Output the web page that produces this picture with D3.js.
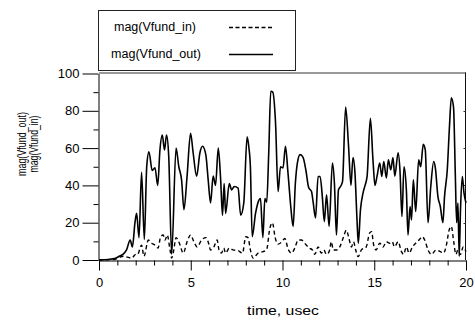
<!DOCTYPE html>
<html>
<head>
<meta charset="utf-8">
<script src="https://cdn.jsdelivr.net/npm/d3@7"></script>
<style>
  body { margin: 0; background: #fff; }
  svg { font-family: "Liberation Sans", Arial, sans-serif; }
  .axis path, .axis line { stroke: #000; }
  .axis text { font-size: 13px; fill: #000; font-family: "Liberation Sans", Arial, sans-serif; }
</style>
</head>
<body>
<div id="chart"></div>
<script>
// time samples (usec) and magnitudes
var outTime = [0, 0.5, 0.9, 1.1, 1.3, 1.5, 1.7, 1.82, 1.96, 2.05, 2.18, 2.32, 2.47, 2.6, 2.72, 2.9, 3.05, 3.2, 3.32, 3.45, 3.57, 3.68, 3.8, 3.96,
  4.2, 4.35, 4.5, 4.63, 4.8, 4.99, 5.13, 5.32, 5.5, 5.64, 5.82, 5.95, 6.08, 6.22, 6.35, 6.5, 6.63, 6.73, 6.82, 6.9, 7.1, 7.23, 7.37, 7.58, 7.72, 7.89,
  8.07, 8.16, 8.25, 8.35, 8.53, 8.71, 8.8, 8.93, 9.04, 9.14, 9.25, 9.36, 9.47, 9.62, 9.76, 9.89, 10.03, 10.16, 10.3, 10.45, 10.58, 10.7, 10.81, 10.96,
  11.12, 11.27, 11.43, 11.58, 11.67, 11.8, 11.94, 12.05, 12.17, 12.28, 12.4, 12.54, 12.72, 12.83, 12.94, 13.05, 13.16, 13.27, 13.44, 13.6, 13.73, 13.84, 13.95,
  14.06, 14.13, 14.25, 14.39, 14.5, 14.61, 14.79, 14.93, 15.04, 15.15, 15.3, 15.41, 15.52, 15.66, 15.77, 15.9, 16.02, 16.12, 16.3, 16.4, 16.51, 16.62, 16.75,
  16.84, 16.95, 17.03, 17.13, 17.26, 17.42, 17.53, 17.67, 17.78, 17.93, 18.08, 18.24, 18.33, 18.47, 18.6, 18.74, 18.83, 18.98, 19.1, 19.2, 19.32, 19.42,
  19.49, 19.56, 19.63, 19.7, 19.8, 19.89, 20];
var outMag = [0, 0.3, 1, 2, 3, 5.4, 10.7, 7, 20, 25, 12, 47, 11, 50, 58, 48, 49.5, 40, 59, 67, 59, 67, 55.5, 3,
  60, 50, 43, 27, 45, 68, 57.5, 45, 57.5, 61, 56.5, 43, 30.6, 45, 40, 60, 43, 24, 41, 25, 41, 37.6, 39.4, 38.5, 24, 30.6,
  66, 61, 50, 12.5, 25, 32, 33, 12, 33, 31, 57.5, 90.5, 90, 73.6, 36.7, 50, 49.4, 61, 46.6, 28.7, 18, 41, 52, 56.5,
  55, 48.4, 38.7, 36.7, 31, 22.6, 44.8, 44.8, 34, 20.6, 35, 18, 52, 41, 13.4, 37.6, 39.4, 42, 82, 61, 40, 55, 46.6,
  21.5, 9, 27, 36, 40, 44.8, 76, 53.7, 40, 44.8, 52, 44.8, 52.8, 44, 53.7, 48.4, 55, 45, 57.5, 48.4, 23.3, 50, 37.6,
  13.4, 28.7, 21.5, 43, 26, 53.7, 50, 62, 59, 20, 39.4, 52.8, 49.4, 34, 28.7, 20, 34, 48.4, 71.7, 87, 82, 44.8,
  20, 30.6, 2, 27, 44.8, 36, 30.6];

var inTime = [0, 0.8, 1.33, 1.78, 2.0, 2.1, 2.32, 2.45, 2.69, 2.87, 3.05, 3.22, 3.36, 3.5, 3.6, 3.72, 3.87, 3.96, 4.06, 4.2, 4.38, 4.59, 4.8, 4.99,
  5.17, 5.35, 5.59, 5.83, 6.0, 6.07, 6.26, 6.44, 6.54, 6.68, 6.8, 6.9, 7.1, 7.3, 7.58, 7.82, 8.0, 8.12, 8.25, 8.4, 8.67, 8.94, 9.13, 9.31, 9.45, 9.6,
  9.76, 9.94, 10.13, 10.3, 10.49, 10.67, 10.85, 11.03, 11.21, 11.45, 11.63, 11.76, 11.94, 12.12, 12.25, 12.4, 12.54, 12.67, 12.76, 12.94, 13.12, 13.33,
  13.48, 13.6, 13.76, 13.87, 13.99, 14.12, 14.3, 14.56, 14.75, 14.85, 14.97, 15.1, 15.3, 15.48, 15.66, 15.84, 15.98, 16.1, 16.3, 16.48, 16.6, 16.75,
  16.9, 17.08, 17.26, 17.44, 17.62, 17.75, 17.93, 18.11, 18.38, 18.6, 18.78, 18.93, 19.08, 19.2, 19.33, 19.45, 19.56, 19.7, 19.85, 20];
var inMag = [0, 0.3, 2, 1, 3, 3, 8, 2, 10.7, 9, 8, 6.4, 12.5, 13.4, 10.7, 13.4, 5.4, 1, 4.5, 12, 9, 3.7, 9.8, 13.4,
  9.8, 7, 10.7, 12, 8, 5.4, 7, 10.7, 5.4, 3.7, 6.4, 3.7, 6.4, 5.4, 5, 3.7, 12.5, 12, 5.4, 1, 3.7, 4.5, 5.4, 17, 20, 12,
  8.5, 9.5, 11.5, 6, 3.7, 6.4, 10.7, 10.7, 9, 6.4, 5.4, 3, 7, 3.7, 5.4, 3, 4.5, 9.8, 5.4, 5.4, 7, 12.5,
  16, 12.5, 7, 9.8, 5.4, 1.8, 5.4, 7, 14.5, 15.2, 8, 5.4, 9, 7, 9.8, 9, 9.8, 7, 9.8, 4.5, 3, 7,
  3.7, 7, 9, 10.7, 12.5, 10.7, 5.4, 3, 5.4, 4.5, 3.7, 8, 16, 18, 9.8, 3, 5.4, 3, 7, 4.5];

var xTicks = [0, 5, 10, 15, 20];
var yTicks = [0, 20, 40, 60, 80, 100];
var legendLabels = ["mag(Vfund_in)", "mag(Vfund_out)"];

var width = 475, height = 320;
var plot = { left: 99, right: 466, top: 73.5, bottom: 260 };

var svg = d3.select("#chart").append("svg")
  .attr("width", width)
  .attr("height", height);

var x = d3.scaleLinear().domain([0, 20]).range([plot.left, plot.right]);
var y = d3.scaleLinear().domain([0, 100]).range([plot.bottom, plot.top]);

// frame (top gray, right dark)
svg.append("line")
  .attr("x1", plot.left).attr("x2", plot.right)
  .attr("y1", plot.top - 0.5).attr("y2", plot.top - 0.5)
  .attr("stroke", "#777").attr("stroke-width", 1.5);
svg.append("line")
  .attr("x1", plot.right - 0.5).attr("x2", plot.right - 0.5)
  .attr("y1", plot.top - 1).attr("y2", plot.bottom)
  .attr("stroke", "#111").attr("stroke-width", 1);

// small inward ticks on the right border
svg.append("g")
  .selectAll("line")
  .data(yTicks.slice(1, -1))
  .enter().append("line")
  .attr("x1", plot.right - 2.5).attr("x2", plot.right - 0.5)
  .attr("y1", d => Math.round(y(d)) + 0.5).attr("y2", d => Math.round(y(d)) + 0.5)
  .attr("stroke", "#333");

// data lines
var line = d3.line()
  .x(d => x(d[0]))
  .y(d => y(d[1]))
  .curve(d3.curveMonotoneX);

svg.append("path")
  .datum(d3.zip(inTime, inMag))
  .attr("fill", "none")
  .attr("stroke", "#000")
  .attr("stroke-width", 1.4)
  .attr("stroke-dasharray", "4,3")
  .attr("d", line);

svg.append("path")
  .datum(d3.zip(outTime, outMag))
  .attr("fill", "none")
  .attr("stroke", "#000")
  .attr("stroke-width", 1.6)
  .attr("stroke-linejoin", "round")
  .attr("d", line);

// y axis
var yAxis = d3.axisLeft(y).tickValues(yTicks).tickSize(16).tickPadding(3).tickSizeOuter(0);
svg.append("g")
  .attr("class", "axis")
  .attr("transform", "translate(" + (plot.left - 0.5) + ",0)")
  .call(yAxis);
svg.append("g")
  .attr("class", "axis")
  .attr("transform", "translate(" + (plot.left - 0.5) + ",0)")
  .call(d3.axisLeft(y).tickValues([10, 30, 50, 70, 90]).tickSize(5).tickFormat("").tickSizeOuter(0))
  .select(".domain").remove();

// x axis
var xAxis = d3.axisBottom(x).tickValues(xTicks).tickSize(10).tickPadding(7).tickSizeOuter(0);
svg.append("g")
  .attr("class", "axis")
  .attr("transform", "translate(0," + (plot.bottom + 0.5) + ")")
  .call(xAxis);
svg.append("g")
  .attr("class", "axis")
  .attr("transform", "translate(0," + (plot.bottom + 0.5) + ")")
  .call(d3.axisBottom(x).tickValues(d3.range(0, 21, 1).filter(d => d % 5 !== 0)).tickSize(5).tickFormat("").tickSizeOuter(0))
  .select(".domain").remove();

// axis titles
svg.append("text")
  .attr("x", 283).attr("y", 315)
  .attr("text-anchor", "middle")
  .attr("font-size", "12.5px")
  .attr("textLength", 72)
  .attr("lengthAdjust", "spacingAndGlyphs")
  .text("time, usec");

var yTitle = svg.append("g").attr("transform", "translate(0,144)");
yTitle.append("text")
  .attr("transform", "translate(26,0) rotate(-90)")
  .attr("text-anchor", "middle")
  .attr("font-size", "12.5px")
  .attr("textLength", 64)
  .attr("lengthAdjust", "spacingAndGlyphs")
  .text("mag(Vfund_out)");
yTitle.append("text")
  .attr("transform", "translate(37.5,0) rotate(-90)")
  .attr("text-anchor", "middle")
  .attr("font-size", "12.5px")
  .attr("textLength", 57)
  .attr("lengthAdjust", "spacingAndGlyphs")
  .text("mag(Vfund_in)");

// legend
var legend = svg.append("g");
legend.append("rect")
  .attr("x", 98.5).attr("y", 10.5)
  .attr("width", 197).attr("height", 60)
  .attr("fill", "#fff")
  .attr("stroke", "#222");

var legendRows = legend.selectAll("g.row")
  .data(legendLabels)
  .enter().append("g")
  .attr("class", "row")
  .attr("transform", (d, i) => "translate(0," + (27 + i * 27) + ")");

legendRows.append("text")
  .attr("x", (d, i) => i === 0 ? 114 : 111)
  .attr("dy", "0.35em")
  .attr("font-size", "12px")
  .attr("textLength", (d, i) => i === 0 ? 82 : 90)
  .attr("lengthAdjust", "spacingAndGlyphs")
  .text(d => d);

legendRows.append("line")
  .attr("x1", 229).attr("x2", 273)
  .attr("y1", 0.5).attr("y2", 0.5)
  .attr("stroke", "#000")
  .attr("stroke-width", 1.3)
  .attr("stroke-dasharray", (d, i) => i === 0 ? "4,2.5" : null);
</script>
</body>
</html>
